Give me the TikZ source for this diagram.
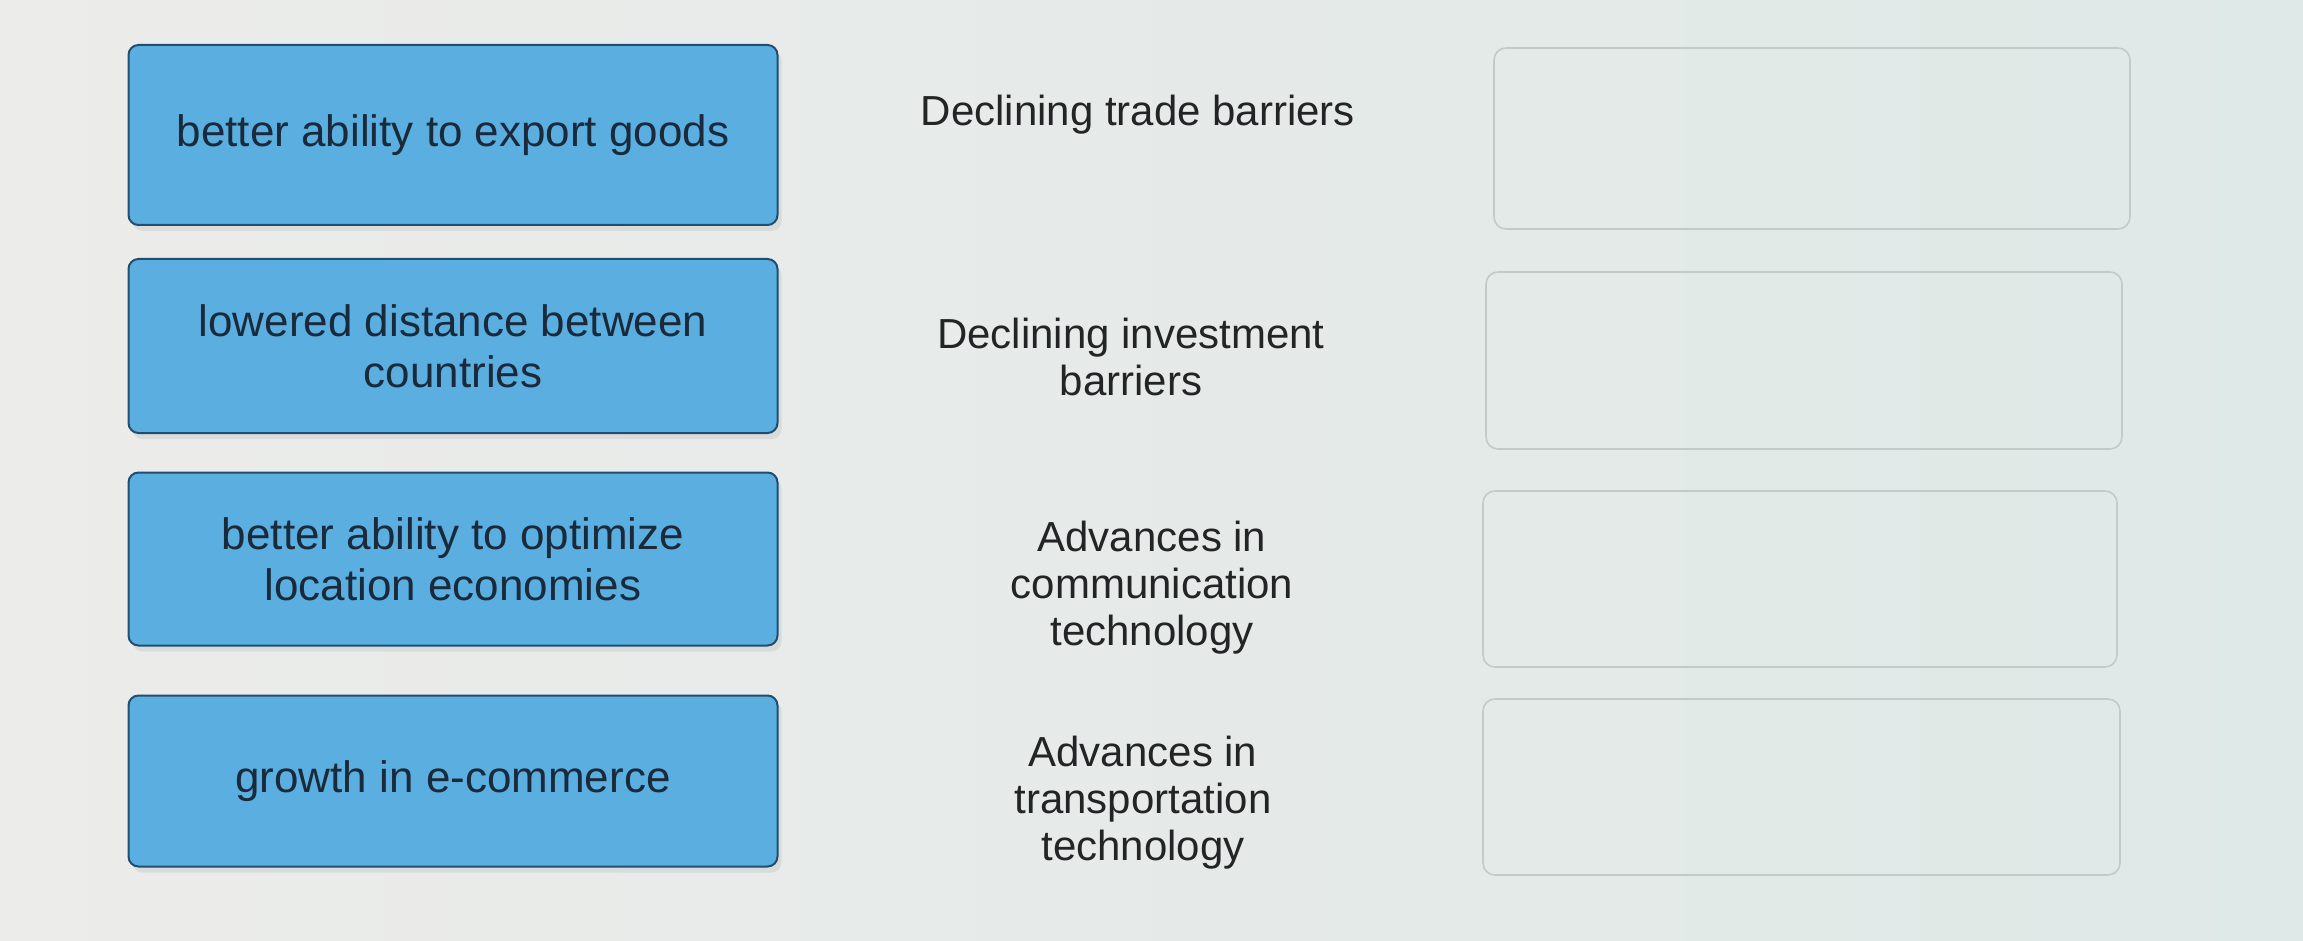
\documentclass[tikz,border=0pt]{standalone}
\usepackage{fontspec}
\setmainfont{Liberation Sans}
\definecolor{bgL}{HTML}{ECECEA}
\definecolor{bgR}{HTML}{DFE9E7}
\definecolor{tileblue}{HTML}{5AAEE0}
\definecolor{tileedge}{HTML}{1F4E70}
\definecolor{tiletext}{HTML}{1A2A3A}
\definecolor{slotedge}{HTML}{C4CACA}
\definecolor{labeltext}{HTML}{222426}
\begin{document}
\begin{tikzpicture}[x=1pt,y=-1pt,
  tile/.style={draw=tileedge, line width=2pt, fill=tileblue, rounded corners=10pt,
    minimum width=649pt, inner sep=0pt, align=center, text=tiletext,
    font=\fontsize{44}{51}\selectfont},
  shadowbox/.style={fill=black!25, opacity=0.35, rounded corners=10pt, inner sep=0pt, minimum width=649pt},
  cause/.style={align=center, text=labeltext, inner sep=0pt, font=\fontsize{42}{47}\selectfont},
  slot/.style={draw=slotedge, line width=1.6pt, rounded corners=12pt, inner sep=0pt}]
\useasboundingbox (0,0) rectangle (2303,941);
\shade[left color=bgL, right color=bgR] (0,0) rectangle (2303,941);
% shadows
\node[shadowbox, minimum height=180pt] (s1) at (457,141) {};
\node[shadowbox, minimum height=174pt] (s2) at (457,352) {};
\node[shadowbox, minimum height=173pt] (s3) at (457,565) {};
\node[shadowbox, minimum height=171pt] (s4) at (457,787) {};
% tiles
\node[tile, minimum height=180pt] (t1) at (453,135) {better ability to export goods};
\node[tile, minimum height=174pt] (t2) at (453,346) {lowered distance between\\countries};
\node[tile, minimum height=173pt] (t3) at (453,559) {better ability to optimize\\location economies};
\node[tile, minimum height=171pt] (t4) at (453,781) {growth in e-commerce};
% causes
\node[cause] (c1) at (1138,115) {Declining trade barriers};
\node[cause] (c2) at (1131,357) {Declining investment\\barriers};
\node[cause] (c3) at (1152,588) {Advances in\\communication\\technology};
\node[cause] (c4) at (1143,803) {Advances in\\transportation\\technology};
% empty slots
\node[slot, minimum width=636pt, minimum height=181pt] (r1) at (1812,138.5) {};
\node[slot, minimum width=636pt, minimum height=177pt] (r2) at (1804,360.5) {};
\node[slot, minimum width=634pt, minimum height=176pt] (r3) at (1800,579) {};
\node[slot, minimum width=637pt, minimum height=176pt] (r4) at (1801.5,787) {};
\end{tikzpicture}
\end{document}
